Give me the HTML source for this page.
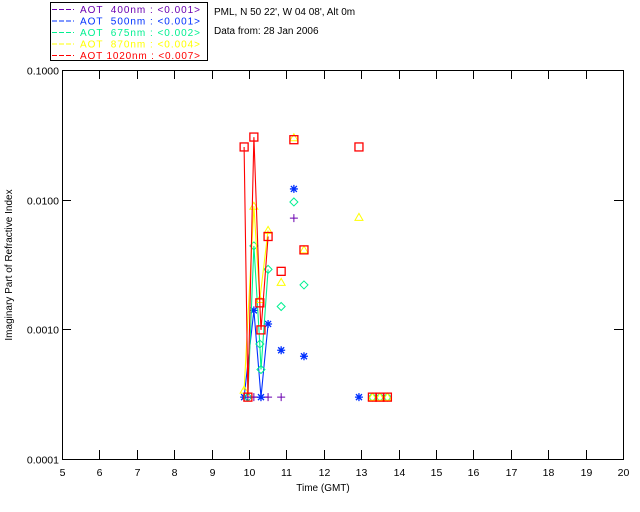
<!DOCTYPE html>
<html><head><meta charset="utf-8"><style>
body{margin:0;background:#fff}
svg{display:block;font-family:"Liberation Sans",sans-serif}
</style></head><body>
<svg id="c" width="640" height="512" viewBox="0 0 640 512">
<rect x="0" y="0" width="640" height="512" fill="#fff"/>
<g>
<rect x="50.5" y="2.5" width="157" height="58" fill="none" stroke="#000"/>
</g>
<text x="214" y="15" font-size="10">PML, N 50 22', W 04 08', Alt 0m</text>
<text x="214" y="34" font-size="10">Data from: 28 Jan 2006</text>
<text x="323" y="491" font-size="10" text-anchor="middle">Time (GMT)</text>
<text transform="translate(12,265) rotate(-90)" font-size="10" text-anchor="middle">Imaginary Part of Refractive Index</text>
</svg>
<script>
const xTicks=[5,6,7,8,9,10,11,12,13,14,15,16,17,18,19,20];
const yTicks=[0.0001,0.001,0.01,0.1];
const yTickLabels=["0.0001","0.0010","0.0100","0.1000"];
const seriesNames=["AOT  400nm : <0.001>","AOT  500nm : <0.001>","AOT  675nm : <0.002>","AOT  870nm : <0.004>","AOT 1020nm : <0.007>"];
const t400=[9.97,10.13,10.32,10.51,10.86,11.2];
const v400=[0.0003,0.0003,0.0003,0.0003,0.0003,0.0072];
const t500=[9.87,10.13,10.32,10.51,10.86,11.2,11.47,12.94];
const v500=[0.0003,0.0014,0.0003,0.0011,0.00069,0.0121,0.00062,0.0003];
const t675=[9.97,10.13,10.29,10.32,10.51,10.86,11.2,11.47,13.3,13.5,13.7];
const v675=[0.0003,0.0044,0.00077,0.00049,0.0029,0.0015,0.0096,0.0022,0.0003,0.0003,0.0003];
const t870=[9.87,10.13,10.29,10.51,10.86,11.2,11.47,12.94,13.3,13.5,13.7];
const v870=[0.00034,0.0089,0.0017,0.0058,0.0023,0.03,0.0041,0.0073,0.0003,0.0003,0.0003];
const t1020=[9.87,9.97,10.13,10.29,10.32,10.51,10.86,11.2,11.47,12.94,13.3,13.5,13.7];
const v1020=[0.0255,0.0003,0.0304,0.0016,0.00099,0.0052,0.0028,0.029,0.0041,0.0255,0.0003,0.0003,0.0003];
const colors=["#6a00b0","#0030ff","#00f090","#ffff00","#ff0000"];
const L=62,R=623,T=70,B=459,X0=5,X1=20;
const xs=t=>L+(t-X0)/(X1-X0)*(R-L);
const ys=v=>T+(-1-Math.log10(v))/3*(B-T);
const NS="http://www.w3.org/2000/svg";
const svg=document.getElementById('c');
function mk(tag,at,parent){const e=document.createElementNS(NS,tag);for(const k in at)e.setAttribute(k,at[k]);(parent||svg).appendChild(e);return e;}
const axes=mk('g',{});


const frame=mk('rect',{x:L+.5,y:T+.5,width:R-L,height:B-T,fill:'none',stroke:'#000'},axes);


xTicks.forEach(t=>{const x=Math.round(xs(t))+.5;
 mk('line',{x1:x,x2:x,y1:B,y2:B-9,stroke:'#000'},axes);
 mk('line',{x1:x,x2:x,y1:T,y2:T+9,stroke:'#000'},axes);
 const tx=mk('text',{x:x,y:B+17,'font-size':10.5,'text-anchor':'middle'},axes);tx.textContent=t;
 
 });
yTicks.forEach((v,i)=>{const y=Math.round(ys(v))+.5;
 mk('line',{x1:L,x2:L+9,y1:y,y2:y,stroke:'#000'},axes);
 mk('line',{x1:R-9,x2:R,y1:y,y2:y,stroke:'#000'},axes);
 const tx=mk('text',{x:L-3,y:y+4,'font-size':10.5,'text-anchor':'end'},axes);tx.textContent=yTickLabels[i];
 
 });
// legend entries
seriesNames.forEach((n,i)=>{const y=13+i*11.5;
 const g=mk('g',{});
 
 
 mk('line',{x1:52,x2:74,y1:y-3.5,y2:y-3.5,stroke:colors[i],'stroke-dasharray':'5,2'},g);
 const tx=mk('text',{x:80,y:y,'font-size':10,fill:colors[i],style:'white-space:pre',textLength:120,lengthAdjust:'spacing'},g);tx.textContent=n;});
const data=[[t400,v400],[t500,v500],[t675,v675],[t870,v870],[t1020,v1020]];
function marker(i,x,y,g){const c=colors[i];
 if(i===0){mk('path',{d:`M${x-4} ${y}H${x+4}M${x} ${y-4}V${y+4}`,stroke:c,fill:'none'},g);}
 else if(i===1){mk('path',{d:`M${x-4} ${y}H${x+4}M${x} ${y-4}V${y+4}M${x-3} ${y-3}L${x+3} ${y+3}M${x-3} ${y+3}L${x+3} ${y-3}`,stroke:c,'stroke-width':1.3,fill:'none'},g);}
 else if(i===2){mk('path',{d:`M${x} ${y-4}L${x+4} ${y}L${x} ${y+4}L${x-4} ${y}Z`,stroke:c,fill:'none'},g);}
 else if(i===3){mk('path',{d:`M${x} ${y-4}L${x+4} ${y+3}H${x-4}Z`,stroke:c,fill:'none'},g);}
 else {mk('rect',{x:x-4,y:y-4,width:8,height:8,stroke:c,'stroke-width':1.3,fill:'none'},g);}
}
data.forEach(([t,v],i)=>{
 const g=mk('g',{});
 
 
 const pts=[];t.forEach((tt,j)=>{if(tt<=10.6)pts.push(xs(tt).toFixed(1)+','+ys(v[j]).toFixed(1));});
 if(pts.length>1){const pl=mk('polyline',{points:pts.join(' '),fill:'none',stroke:colors[i],'stroke-width':1.1},g);
  
  }
 t.forEach((tt,j)=>marker(i,xs(tt),ys(v[j]),g));
});
</script>
</body></html>
